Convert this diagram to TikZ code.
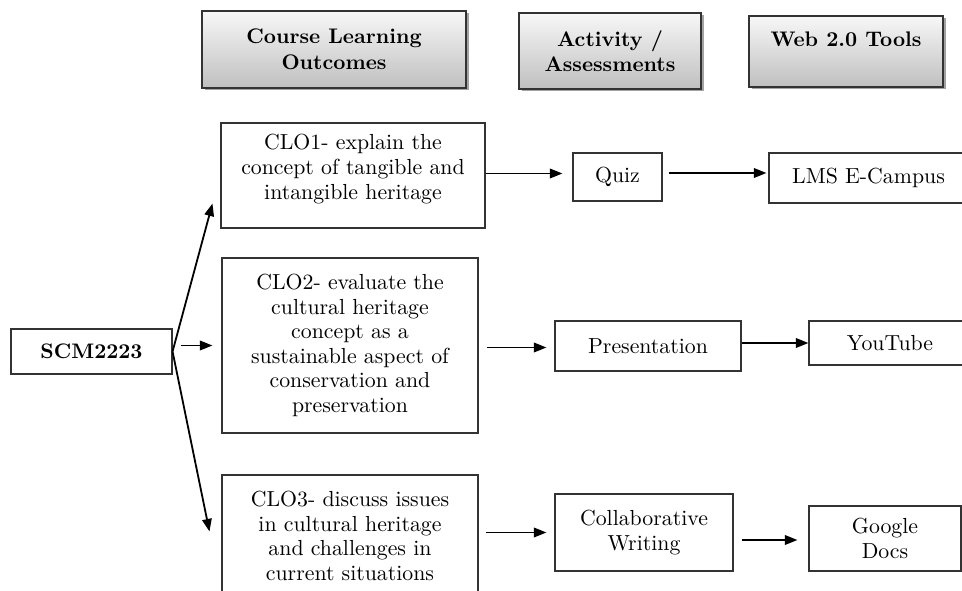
\documentclass[tikz,border=0pt]{standalone}
\usepackage{fontspec}
\setmainfont{lmroman10-regular.otf}[BoldFont=lmroman10-bold.otf, ItalicFont=lmroman10-italic.otf]
\usetikzlibrary{arrows.meta,shadows}
\newcommand{\bodyfont}{\fontsize{21.8}{24.6}\selectfont}
\begin{document}
\begin{tikzpicture}[x=1pt,y=-1pt,
  box/.style={draw=black!80, line width=1.1pt, rectangle, inner sep=2pt, align=center,
    font=\bodyfont},
  lbl/.style={align=center, inner sep=0pt, font=\bodyfont},
  hdr/.style={draw=black!80, line width=1.3pt, rectangle, top color=black!3, bottom color=black!25,
    drop shadow={shadow xshift=2.5pt, shadow yshift=-2.5pt, fill=black!60, opacity=0.6},
    align=center, font=\bfseries\fontsize{21.1}{25.5}\selectfont},
  arr/.style={line width=1.8pt, -{Triangle[length=12.5pt,width=9.5pt]}}]
\clip (0,0) rectangle (962,591);

% headers
\node[hdr, minimum width=264pt, minimum height=77pt] (hclo) at (334,49.5) {Course Learning\\Outcomes};
\node[hdr, minimum width=182pt, minimum height=76pt] (hact) at (610,51) {Activity /\\Assessments};
\node[hdr, minimum width=194pt, minimum height=71pt] (hweb) at (846,51.5) {Web 2.0 Tools\\\mbox{}};

% source
\node[box, minimum width=161pt, minimum height=45pt, font=\bfseries\fontsize{21}{24}\selectfont] (scm) at (91.5,351.5) {SCM2223};

% CLO boxes
\node[box, minimum width=264pt, minimum height=105pt] (clo1) at (353,175.5) {};
\node[lbl] (clo1t) at (353,169) {CLO1- explain the\\concept of tangible and\\intangible heritage};
\node[box, minimum width=256pt, minimum height=175pt] (clo2) at (350,345.5)
  {CLO2- evaluate the\\cultural heritage\\concept as a\\sustainable aspect of\\conservation and\\preservation};
\node[box, minimum width=256pt, minimum height=150pt] (clo3) at (350,550) {};
\node[lbl] (clo3t) at (350,536) {CLO3- discuss issues\\in cultural heritage\\and challenges in\\current situations};

% activities
\node[box, minimum width=89pt, minimum height=48pt] (quiz) at (617.5,177) {Quiz};
\node[box, minimum width=186pt, minimum height=50pt] (pres) at (648,346) {Presentation};
\node[box, minimum width=178pt, minimum height=77pt] (cw) at (644,532.5) {Collaborative\\Writing};

% tools
\node[box, minimum width=199pt, minimum height=50pt] (lms) at (868.5,178) {LMS E-Campus};
\node[box, minimum width=162pt, minimum height=44pt] (yt) at (890,343) {YouTube};
\node[box, minimum width=152pt, minimum height=65pt] (gd) at (885,538.5) {Google\\Docs};

% connectors
\draw[arr] (scm.east) -- ([xshift=-8pt,yshift=25pt]clo1.south west);
\draw[arr] ([xshift=8pt]scm.east |- clo2.west) -- ([xshift=-9pt]clo2.west);
\draw[arr] (scm.east) -- ([xshift=-12pt,yshift=-57pt]clo3.north west);

\draw[arr] ([yshift=2pt]clo1.east) -- ([xshift=-10pt,yshift=2pt]clo1.east -| quiz.west);
\draw[arr] ([xshift=6pt,yshift=4pt]quiz.east) -- ([xshift=-2pt,yshift=4pt]quiz.east -| lms.west);

\draw[arr] ([xshift=8pt,yshift=-2pt]clo2.east) -- ([xshift=-8pt,yshift=-2pt]clo2.east -| pres.west);
\draw[arr] (pres.east |- yt.west) -- (yt.west);

\draw[arr] ([xshift=7pt]clo3.east |- cw.west) -- ([xshift=-8pt]cw.west);
\draw[arr] ([xshift=8pt,yshift=-1.5pt]cw.east |- gd.west) -- ([xshift=-11pt,yshift=-1.5pt]gd.west);
\end{tikzpicture}
\end{document}
